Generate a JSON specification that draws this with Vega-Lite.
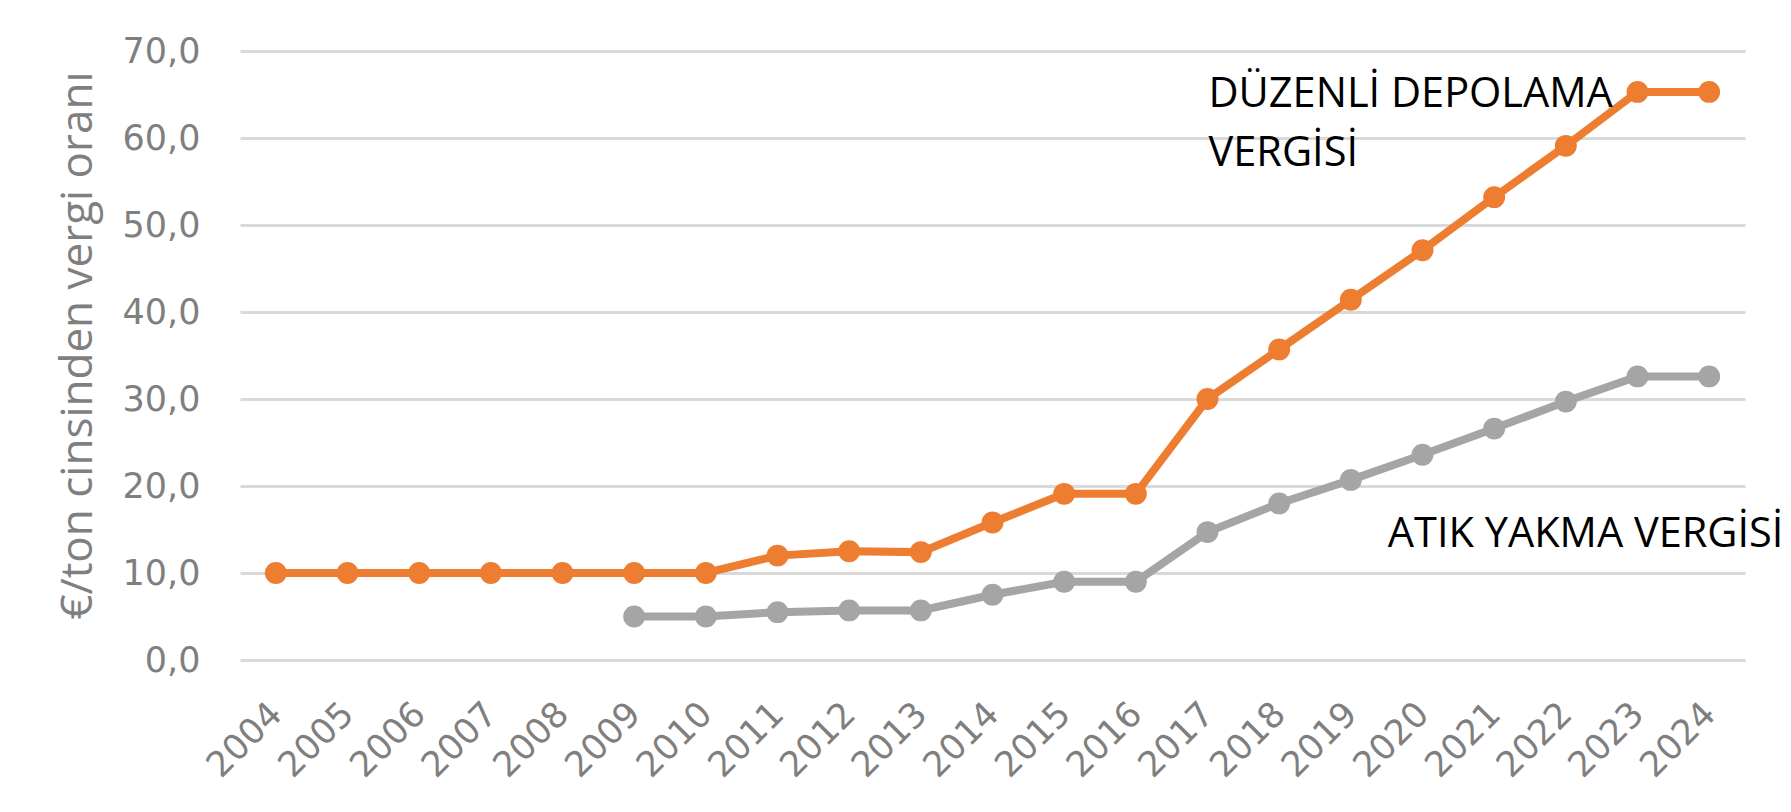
{
  "$schema": "https://vega.github.io/schema/vega-lite/v6.json",
  "autosize": "none",
  "width": 1505,
  "height": 609,
  "padding": {"left": 240, "top": 51, "right": 46, "bottom": 152},
  "background": "white",
  "config": {"view": {"stroke": null}},
  "datasets": {
    "series": [
      {"year": 2004, "seri": "depolama", "value": 10.0},
      {"year": 2005, "seri": "depolama", "value": 10.0},
      {"year": 2006, "seri": "depolama", "value": 10.0},
      {"year": 2007, "seri": "depolama", "value": 10.0},
      {"year": 2008, "seri": "depolama", "value": 10.0},
      {"year": 2009, "seri": "depolama", "value": 10.0},
      {"year": 2010, "seri": "depolama", "value": 10.0},
      {"year": 2011, "seri": "depolama", "value": 12.0},
      {"year": 2012, "seri": "depolama", "value": 12.5},
      {"year": 2013, "seri": "depolama", "value": 12.4},
      {"year": 2014, "seri": "depolama", "value": 15.8},
      {"year": 2015, "seri": "depolama", "value": 19.1},
      {"year": 2016, "seri": "depolama", "value": 19.1},
      {"year": 2017, "seri": "depolama", "value": 30.0},
      {"year": 2018, "seri": "depolama", "value": 35.7},
      {"year": 2019, "seri": "depolama", "value": 41.4},
      {"year": 2020, "seri": "depolama", "value": 47.1},
      {"year": 2021, "seri": "depolama", "value": 53.2},
      {"year": 2022, "seri": "depolama", "value": 59.1},
      {"year": 2023, "seri": "depolama", "value": 65.3},
      {"year": 2024, "seri": "depolama", "value": 65.3},
      {"year": 2009, "seri": "yakma", "value": 5.0},
      {"year": 2010, "seri": "yakma", "value": 5.0},
      {"year": 2011, "seri": "yakma", "value": 5.5},
      {"year": 2012, "seri": "yakma", "value": 5.7},
      {"year": 2013, "seri": "yakma", "value": 5.7},
      {"year": 2014, "seri": "yakma", "value": 7.5},
      {"year": 2015, "seri": "yakma", "value": 9.0},
      {"year": 2016, "seri": "yakma", "value": 9.0},
      {"year": 2017, "seri": "yakma", "value": 14.7},
      {"year": 2018, "seri": "yakma", "value": 18.0},
      {"year": 2019, "seri": "yakma", "value": 20.7},
      {"year": 2020, "seri": "yakma", "value": 23.6},
      {"year": 2021, "seri": "yakma", "value": 26.6},
      {"year": 2022, "seri": "yakma", "value": 29.7},
      {"year": 2023, "seri": "yakma", "value": 32.6},
      {"year": 2024, "seri": "yakma", "value": 32.6}
    ],
    "depolamaLabel": [
      {"year": 2017, "value": 63.6, "text": "DÜZENLİ DEPOLAMA"},
      {"year": 2017, "value": 56.8, "text": "VERGİSİ"}
    ],
    "yakmaLabel": [
      {"year": 2019, "value": 13.0, "text": "ATIK YAKMA VERGİSİ"}
    ]
  },
  "layer": [
    {
      "data": {"name": "series"},
      "mark": {"type": "line", "strokeWidth": 8, "point": {"filled": true, "size": 480, "opacity": 1}},
      "encoding": {
        "x": {
          "field": "year", "type": "ordinal",
          "scale": {"padding": 0.5},
          "axis": {
            "title": null, "domain": false, "ticks": false, "grid": false,
            "labelAngle": -45, "labelAlign": "right", "labelBaseline": "middle",
            "labelPadding": 48, "labelOffset": 0,
            "labelFont": "DejaVu Sans", "labelFontSize": 35, "labelColor": "#7f7f7f"
          }
        },
        "y": {
          "field": "value", "type": "quantitative",
          "scale": {"domain": [0, 70], "nice": false},
          "axis": {
            "title": "€/ton cinsinden vergi oranı",
            "titleFont": "Open Sans", "titleFontSize": 44, "titleFontWeight": "normal",
            "titleColor": "#7f7f7f", "titlePadding": 22, "titleY": 294,
            "values": [0, 10, 20, 30, 40, 50, 60, 70],
            "labelExpr": "replace(format(datum.value, '.1f'), '.', ',')",
            "labelFont": "DejaVu Sans", "labelFontSize": 35, "labelColor": "#7f7f7f",
            "labelPadding": 40,
            "domain": false, "ticks": false,
            "grid": true, "gridColor": "#d9d9d9", "gridWidth": 3
          }
        },
        "color": {
          "field": "seri", "type": "nominal",
          "scale": {"domain": ["depolama", "yakma"], "range": ["#ED7D31", "#A5A5A5"]},
          "legend": null
        }
      }
    },
    {
      "data": {"name": "depolamaLabel"},
      "mark": {"type": "text", "align": "left", "baseline": "alphabetic", "font": "Open Sans", "fontSize": 41.5, "color": "#000000", "dx": 1},
      "encoding": {
        "x": {"field": "year", "type": "ordinal"},
        "y": {"field": "value", "type": "quantitative"},
        "text": {"field": "text"}
      }
    },
    {
      "data": {"name": "yakmaLabel"},
      "mark": {"type": "text", "align": "left", "baseline": "alphabetic", "font": "Open Sans", "fontSize": 41.5, "color": "#000000", "dx": 37},
      "encoding": {
        "x": {"field": "year", "type": "ordinal"},
        "y": {"field": "value", "type": "quantitative"},
        "text": {"field": "text"}
      }
    }
  ]
}
